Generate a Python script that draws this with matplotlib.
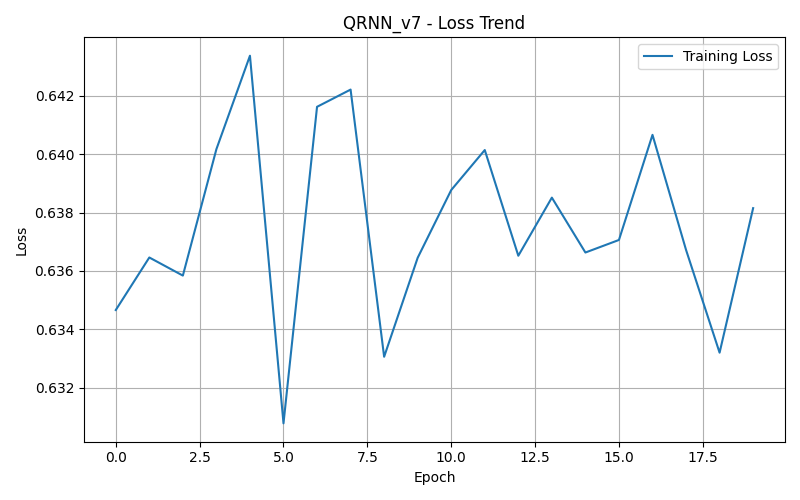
import numpy as np
import matplotlib.pyplot as plt

epochs = np.arange(20)
train_loss = [0.63466, 0.63646, 0.63584, 0.64017, 0.64337, 0.63078, 0.64162, 0.64221,
              0.63306, 0.63645, 0.63877, 0.64014, 0.63652, 0.63851, 0.63663, 0.63706,
              0.64066, 0.63672, 0.63320, 0.63815]

fig, ax = plt.subplots(figsize=(8, 5), dpi=100)
ax.plot(epochs, train_loss, label="Training Loss")
ax.set_xlabel('Epoch')
ax.set_ylabel('Loss')
ax.set_title('QRNN_v7 - Loss Trend')
ax.grid(True)
ax.legend(loc='upper right')
fig.tight_layout()
fig.savefig("out.png")
